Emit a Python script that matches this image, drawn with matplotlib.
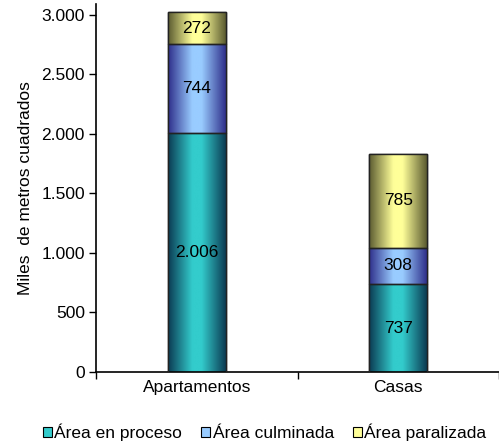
import numpy as np
import matplotlib
matplotlib.use("Agg")
import matplotlib.pyplot as plt
from matplotlib.colors import LinearSegmentedColormap
from matplotlib.patches import Rectangle
from matplotlib.ticker import FuncFormatter

plt.rcParams['font.family'] = ['Liberation Sans', 'DejaVu Sans']

categories = ["Apartamentos", "Casas"]
series_names = ["Área en proceso", "Área culminada", "Área paralizada"]
en_proceso = [2006, 737]
culminada = [744, 308]
paralizada = [272, 785]
labels_text = [["2.006", "737"], ["744", "308"], ["272", "785"]]

series = [en_proceso, culminada, paralizada]
centers = ["#33CCCC", "#99CCFF", "#FFFF99"]
edges_c = ["#0B3A52", "#2E2E8A", "#5A5A30"]

FS = 12.5
fig = plt.figure(figsize=(4.99, 4.44), dpi=100)
W, H = 499, 444
ax = fig.add_axes([96 / W, (H - 372) / H, (499 - 96) / W, (372 - 4) / H])
ax.set_xlim(-0.5, 1.456)
ax.set_ylim(0, 3090)

width = 0.286
x = np.arange(len(categories))
bottom = np.zeros(len(categories))
for si, vals in enumerate(series):
    cmap = LinearSegmentedColormap.from_list(
        "g%d" % si, [(0, edges_c[si]), (0.42, centers[si]), (0.58, centers[si]), (1, edges_c[si])])
    grad = np.linspace(0, 1, 256).reshape(1, -1)
    bars = ax.bar(x, vals, width, bottom=bottom, color=centers[si],
                  edgecolor="black", linewidth=1.0, zorder=2,
                  label=series_names[si])
    for b in bars:
        x0, y0 = b.get_x(), b.get_y()
        w, h = b.get_width(), b.get_height()
        im = ax.imshow(grad, cmap=cmap, extent=[x0, x0 + w, y0, y0 + h],
                       aspect="auto", zorder=2.5, interpolation="bicubic")
        im.set_clip_path(b)
        ax.add_patch(Rectangle((x0, y0), w, h, fill=False,
                               edgecolor="#222222", linewidth=1.0, zorder=3))
    for i, b in enumerate(bars):
        ax.text(b.get_x() + b.get_width() / 2, bottom[i] + vals[i] / 2,
                labels_text[si][i], ha="center", va="center",
                fontsize=FS, color="black", zorder=4)
    bottom += np.array(vals)

ax.set_xticks(x)
ax.set_xticklabels(categories, fontsize=FS)
ax.tick_params(axis="x", which="major", length=0, pad=6)
ax.set_xticks([-0.5, 0.5, 1.5], minor=True)
ax.tick_params(axis="x", which="minor", length=5, width=1, direction="out")
ax.set_yticks([0, 500, 1000, 1500, 2000, 2500, 3000])
ax.yaxis.set_major_formatter(FuncFormatter(lambda v, p: f"{int(v):,}".replace(",", ".")))
ax.tick_params(axis="y", length=5, width=1, labelsize=FS, pad=3)
ax.spines["top"].set_visible(False)
ax.spines["right"].set_visible(False)
ax.spines["left"].set_linewidth(1.2)
ax.spines["bottom"].set_linewidth(1.2)
ax.set_ylabel("Miles  de metros cuadrados", fontsize=FS, labelpad=6)

handles = [Rectangle((0, 0), 1, 1, facecolor=centers[i], edgecolor="black",
                     linewidth=0.8) for i in range(3)]
leg = fig.legend(handles, series_names, loc="center left",
                 bbox_to_anchor=(43 / W, 1 - 432 / H),
                 ncol=3, frameon=False, fontsize=FS, handlelength=0.5, handleheight=0.5,
                 handletextpad=0.15, columnspacing=1.1, borderpad=0, borderaxespad=0)

fig.savefig("out.png", dpi=100)
